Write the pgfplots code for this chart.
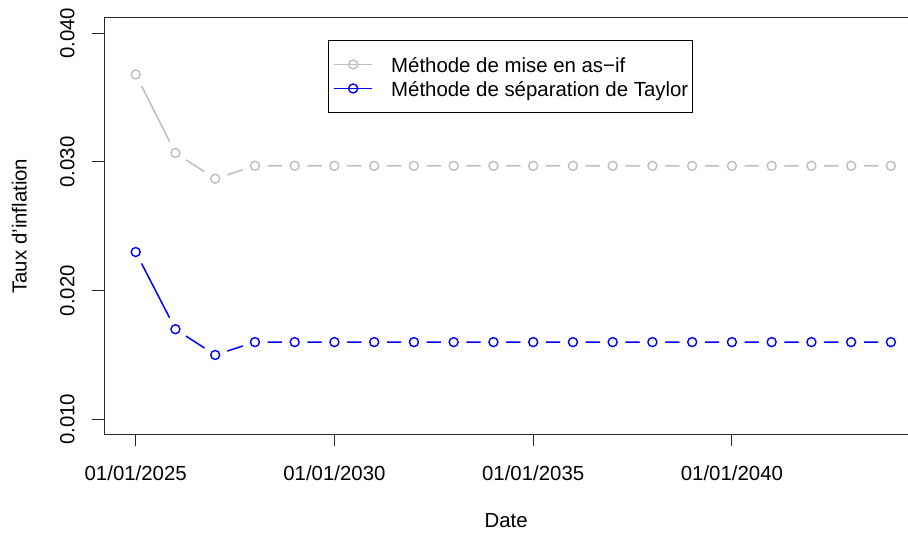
\documentclass[border=0pt]{standalone}
\usepackage{fontspec}
\setmainfont{Liberation Sans}
\usepackage{pgfplots}
\usepackage{pgfplotstable}
\pgfplotsset{compat=1.18}

\definecolor{rgray}{HTML}{BEBEBE}
\definecolor{rblue}{HTML}{0000FF}

% Taux d'inflation projetés, une ligne par année
\pgfplotstableread{
year asif taylor
2025 0.0368 0.0230
2026 0.0307 0.0170
2027 0.0287 0.0150
2028 0.0297 0.0160
2029 0.0297 0.0160
2030 0.0297 0.0160
2031 0.0297 0.0160
2032 0.0297 0.0160
2033 0.0297 0.0160
2034 0.0297 0.0160
2035 0.0297 0.0160
2036 0.0297 0.0160
2037 0.0297 0.0160
2038 0.0297 0.0160
2039 0.0297 0.0160
2040 0.0297 0.0160
2041 0.0297 0.0160
2042 0.0297 0.0160
2043 0.0297 0.0160
2044 0.0297 0.0160
}\rates

\begin{document}
\begin{tikzpicture}[font=\fontsize{10.2bp}{12bp}\selectfont]
\begin{axis}[
  scale only axis, width=401.85bp, height=208.15bp,
  xmin=2024.21, xmax=2044.43, ymin=0.008834, ymax=0.04119,
  axis x line*=box, axis y line*=left,
  xtick pos=left, ytick pos=left,
  axis line style={line width=0.5bp, black!85},
  every tick/.style={line width=0.5bp, black!85},
  tick align=outside, major tick length=6bp,
  scaled y ticks=false, scaled x ticks=false,
  xtick={2025,2030,2035,2040},
  xticklabels={01/01/2025,01/01/2030,01/01/2035,01/01/2040},
  ytick={0.01,0.02,0.03,0.04},
  yticklabels={0.010,0.020,0.030,0.040},
  xticklabel style={anchor=north, inner sep=0pt},
  yticklabel style={rotate=90, anchor=base, inner sep=0pt},
  xticklabel shift=9.35bp, yticklabel shift=9bp,
  xlabel={Date}, ylabel={Taux d'inflation},
  xlabel style={at={(axis description cs:0.5,-0.2234)}, anchor=base},
  ylabel style={at={(axis description cs:-0.0967,0.5)}, anchor=base},
  legend cell align=left,
  legend style={at={(rel axis cs:0.2788,0.9472)}, anchor=north west,
    draw=black, line width=0.5bp, fill=white,
    inner xsep=2.35bp, inner ysep=6bp, row sep=0pt, column sep=9.2bp,
    nodes={inner sep=0pt, text height=10.1bp, text depth=1.9bp}},
  legend image code/.code={\draw[mark repeat=2, mark phase=2, #1]
    plot coordinates {(0bp,0bp) (9.425bp,0bp) (18.85bp,0bp)};},
]
\coordinate (sw) at (rel axis cs:0,0);
\coordinate (ne) at (rel axis cs:1,1);

\addlegendimage{rgray, line width=0.75bp, mark=o, mark size=2.25bp, mark options={line width=0.7bp}}
\addlegendentry{Méthode de mise en as−if}
\addlegendimage{rblue, line width=0.75bp, mark=o, mark size=2.25bp, mark options={line width=0.7bp}}
\addlegendentry{Méthode de séparation de Taylor}

% lignes interrompues autour des points
\addplot[rgray, line width=0.75bp, mark=*, mark size=6bp,
  mark options={draw=white, fill=white}, forget plot] table[x=year, y=asif] {\rates};
\addplot[rgray, only marks, mark=o, mark size=2.25bp,
  mark options={line width=0.7bp}, forget plot] table[x=year, y=asif] {\rates};

\addplot[rblue, line width=0.75bp, mark=*, mark size=6bp,
  mark options={draw=white, fill=white}, forget plot] table[x=year, y=taylor] {\rates};
\addplot[rblue, only marks, mark=o, mark size=2.25bp,
  mark options={line width=0.7bp}, forget plot] table[x=year, y=taylor] {\rates};
\end{axis}
\pgfresetboundingbox
\path[use as bounding box] ([shift={(-52.15bp,-49.85bp)}]sw) rectangle ([shift={(0bp,9bp)}]ne);
\end{tikzpicture}
\end{document}
